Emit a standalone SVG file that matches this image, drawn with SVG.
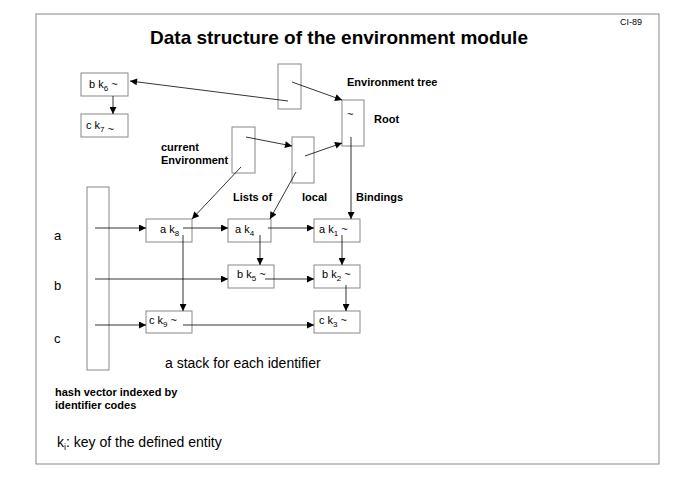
<svg xmlns="http://www.w3.org/2000/svg" width="678" height="480" viewBox="0 0 678 480">
<defs>
<marker id="ah" viewBox="0 0 10 10" refX="10" refY="5" markerWidth="9" markerHeight="7" markerUnits="userSpaceOnUse" orient="auto"><path d="M0,0L10,5L0,10z" fill="#000"/></marker>
<style>
.b{fill:#fff;stroke:#888;stroke-width:1}
.c{stroke:#000;stroke-width:0.8;fill:none;marker-end:url(#ah)}
.l{stroke:#000;stroke-width:0.8;fill:none}
text{font-family:"Liberation Sans",Arial,sans-serif;fill:#000}
.t{font-size:11px}
.bd{font-size:11px;font-weight:bold}
.s{font-size:8px}
</style>
</defs>
<rect x="0" y="0" width="678" height="480" fill="#fff"/>
<rect x="36" y="14" width="623" height="450" fill="none" stroke="#888"/>
<text x="620" y="25" font-size="9">CI-89</text>
<text x="339" y="44" font-size="19" font-weight="bold" text-anchor="middle">Data structure of the environment module</text>
<g id="nodes">
<g id="bk6"><rect class="b" x="81" y="73" width="47" height="23"/><text class="t" x="89" y="88">b k<tspan class="s" dy="3">6</tspan><tspan dy="-3"> ~</tspan></text></g>
<g id="ck7"><rect class="b" x="81" y="114" width="47" height="23"/><text class="t" x="86" y="129">c k<tspan class="s" dy="3">7</tspan><tspan dy="1">  ~</tspan></text></g>
<g id="envtop"><rect class="b" x="278" y="64" width="23" height="45"/></g>
<g id="root"><rect class="b" x="342" y="100" width="22" height="46"/><text class="t" x="347" y="118">~</text></g>
<g id="curenv"><rect class="b" x="232" y="127" width="23" height="46"/></g>
<g id="local"><rect class="b" x="292" y="137" width="22" height="46"/></g>
<g id="hash"><rect class="b" x="87" y="187" width="22" height="183"/></g>
<g id="ak8"><rect class="b" x="146" y="219" width="46" height="23"/><text class="t" x="160" y="233">a k<tspan class="s" dy="3">8</tspan></text></g>
<g id="ak4"><rect class="b" x="228" y="219" width="43" height="23"/><text class="t" x="235" y="233">a k<tspan class="s" dy="3">4</tspan></text></g>
<g id="ak1"><rect class="b" x="314" y="219" width="46" height="23"/><text class="t" x="319" y="233">a k<tspan class="s" dy="3">1</tspan><tspan dy="-3"> ~</tspan></text></g>
<g id="bk5"><rect class="b" x="228" y="265" width="46" height="23"/><text class="t" x="237" y="278">b k<tspan class="s" dy="3">5</tspan><tspan dy="-3">  ~</tspan></text></g>
<g id="bk2"><rect class="b" x="314" y="265" width="46" height="23"/><text class="t" x="322" y="278">b k<tspan class="s" dy="3">2</tspan><tspan dy="-3"> ~</tspan></text></g>
<g id="ck9"><rect class="b" x="146" y="311" width="46" height="22"/><text class="t" x="149" y="324">c k<tspan class="s" dy="3">9</tspan><tspan dy="-3"> ~</tspan></text></g>
<g id="ck3"><rect class="b" x="314" y="311" width="46" height="22"/><text class="t" x="319" y="324">c k<tspan class="s" dy="3">3</tspan><tspan dy="-3"> ~</tspan></text></g>
</g>
<g id="connectors">
<path class="c" d="M113,96V114"/>
<path class="c" d="M292,82L342,100"/>
<path class="c" d="M288,101L130,81"/>
<path class="c" d="M246,137L292,146"/>
<path class="c" d="M305,156L342,143"/>
<path class="c" d="M241,167L192,219"/>
<path class="c" d="M296,172L270,219"/>
<path class="c" d="M351,137V219"/>
<path class="c" d="M95,228H146"/>
<path class="c" d="M95,279H228"/>
<path class="c" d="M95,325H146"/>
<path class="c" d="M183,228H228"/>
<path class="c" d="M268,228H314"/>
<path class="c" d="M265,279H314"/>
<path class="c" d="M183,325H314"/>
<path class="c" d="M183,235V311"/>
<path class="c" d="M260,235V265"/>
<path class="c" d="M342,235V265"/>
<path class="c" d="M346,285V311"/>
</g>
<text class="bd" x="347" y="86">Environment tree</text>
<text class="bd" x="374" y="123">Root</text>
<text class="bd" x="161" y="151">current</text>
<text class="bd" x="161" y="164">Environment</text>
<text class="bd" x="233" y="201">Lists of</text>
<text class="bd" x="302" y="201">local</text>
<text class="bd" x="356" y="201">Bindings</text>
<text x="54" y="240" font-size="13">a</text>
<text x="54" y="290" font-size="13">b</text>
<text x="54" y="343" font-size="13">c</text>
<text x="165" y="368" font-size="14">a stack for each  identifier</text>
<text class="bd" x="55" y="396">hash vector indexed by</text>
<text class="bd" x="55" y="409">identifier codes</text>
<text x="57" y="447" font-size="14">k<tspan font-size="9" dy="3">i</tspan><tspan dy="-3">: key of the defined entity</tspan></text>
</svg>
